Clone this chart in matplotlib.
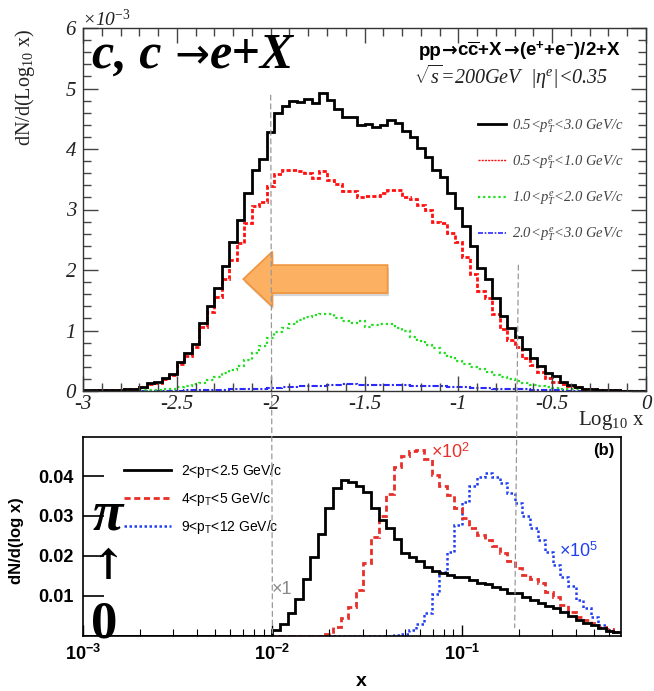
import numpy as np
import matplotlib
matplotlib.use('Agg')
import matplotlib.pyplot as plt
from matplotlib.patches import FancyArrow, ConnectionPatch
from matplotlib.ticker import MultipleLocator, LogLocator, NullFormatter, FixedLocator
from matplotlib.lines import Line2D
from matplotlib.font_manager import FontProperties
from matplotlib.offsetbox import TextArea, HPacker, AnchoredOffsetbox

plt.rcParams['mathtext.fontset'] = 'custom'
plt.rcParams['mathtext.rm'] = 'Liberation Serif'
plt.rcParams['mathtext.it'] = 'Liberation Serif:italic'
plt.rcParams['mathtext.bf'] = 'Liberation Sans:bold'
plt.rcParams['mathtext.sf'] = 'Liberation Sans'
plt.rcParams['axes.unicode_minus'] = False

# ---------------- top panel data (units of 1e-3), bins centred at -3 + 0.04 k
top_bin_width = 0.04
top_first_center = -3.0
e_all = [0.01, 0.01, 0.01, 0.01, 0.02, 0.02, 0.03, 0.03, 0.07, 0.13,
         0.15, 0.22, 0.28, 0.48, 0.62, 0.78, 1.12, 1.40, 1.70, 2.06,
         2.47, 2.83, 3.28, 3.66, 3.83, 4.28, 4.59, 4.71, 4.80, 4.78,
         4.83, 4.76, 4.92, 4.81, 4.66, 4.53, 4.53, 4.40, 4.42, 4.37,
         4.40, 4.48, 4.43, 4.29, 4.20, 4.01, 3.87, 3.65, 3.54, 3.27,
         3.02, 2.72, 2.39, 2.03, 1.85, 1.53, 1.24, 1.04, 0.89, 0.69,
         0.55, 0.41, 0.29, 0.24, 0.15, 0.10, 0.06, 0.04, 0.03, 0.02,
         0.015, 0.01, 0.005, 0.003, 0.002, 0.001]
e_low = [0.005, 0.005, 0.01, 0.01, 0.02, 0.02, 0.03, 0.03, 0.07, 0.12,
         0.14, 0.20, 0.26, 0.45, 0.58, 0.73, 1.06, 1.31, 1.56, 1.85,
         2.17, 2.45, 2.77, 3.05, 3.13, 3.39, 3.59, 3.65, 3.66, 3.64,
         3.60, 3.52, 3.63, 3.49, 3.42, 3.31, 3.31, 3.20, 3.22, 3.23,
         3.28, 3.33, 3.32, 3.21, 3.17, 3.07, 2.99, 2.80, 2.78, 2.61,
         2.47, 2.22, 1.94, 1.66, 1.53, 1.27, 1.02, 0.85, 0.73, 0.54,
         0.43, 0.32, 0.21, 0.15, 0.12, 0.09, 0.06, 0.04, 0.03, 0.02,
         0.01, 0.01, 0.005, 0.003, 0.002, 0.001]
e_mid = [0.002, 0.002, 0.003, 0.003, 0.004, 0.005, 0.006, 0.008, 0.01, 0.015,
         0.02, 0.03, 0.04, 0.07, 0.09, 0.11, 0.14, 0.18, 0.23, 0.29,
         0.35, 0.42, 0.52, 0.62, 0.75, 0.88, 0.97, 1.04, 1.11, 1.17,
         1.22, 1.25, 1.27, 1.28, 1.20, 1.16, 1.13, 1.15, 1.06, 1.09,
         1.11, 1.11, 1.04, 1.00, 0.89, 0.83, 0.76, 0.71, 0.62, 0.57,
         0.50, 0.45, 0.40, 0.36, 0.31, 0.27, 0.23, 0.20, 0.17, 0.13,
         0.10, 0.08, 0.06, 0.05, 0.04, 0.03, 0.025, 0.02, 0.015, 0.01,
         0.008, 0.005, 0.003, 0.002, 0.001, 0.001]
e_high = [0.005, 0.005, 0.005, 0.005, 0.005, 0.005, 0.005, 0.005, 0.005, 0.005,
          0.006, 0.006, 0.007, 0.008, 0.009, 0.01, 0.01, 0.015, 0.02, 0.02,
          0.025, 0.03, 0.03, 0.035, 0.04, 0.045, 0.05, 0.06, 0.07, 0.075,
          0.08, 0.085, 0.09, 0.095, 0.10, 0.11, 0.11, 0.10, 0.105, 0.10,
          0.10, 0.095, 0.10, 0.095, 0.09, 0.085, 0.08, 0.08, 0.075, 0.07,
          0.065, 0.06, 0.055, 0.05, 0.045, 0.04, 0.035, 0.035, 0.03, 0.025,
          0.02, 0.02, 0.015, 0.01, 0.01, 0.008, 0.006, 0.005, 0.004, 0.003,
          0.003, 0.002, 0.002, 0.001, 0.001, 0.001]
top_labels = [r"0.5<$p_{T}^{e}$<3.0 GeV/c", r"0.5<$p_{T}^{e}$<1.0 GeV/c",
              r"1.0<$p_{T}^{e}$<2.0 GeV/c", r"2.0<$p_{T}^{e}$<3.0 GeV/c"]
top_xticks = [-3, -2.5, -2, -1.5, -1, -0.5, 0]
top_xticklabels = ['-3', '-2.5', '-2', '-1.5', '-1', '-0.5', '0']

# ---------------- bottom panel data, log10 x bins of 0.04 from -3
bot_bin_width = 0.04
bot_first_edge = -3.0
pi_low = [0.0] * 25 + [
    0.0014, 0.0028, 0.0056, 0.0091, 0.0141, 0.0198, 0.0256, 0.0319, 0.0369, 0.0390,
    0.0385, 0.0375, 0.0359, 0.0319, 0.0290, 0.0269, 0.0241, 0.0208, 0.0198, 0.0188,
    0.0173, 0.0163, 0.0158, 0.0153, 0.0148, 0.0146, 0.0139, 0.0133, 0.0129, 0.0123,
    0.0116, 0.0106, 0.0108, 0.0098, 0.0089, 0.0081, 0.0075, 0.0068, 0.0060, 0.0049,
    0.0039, 0.0032, 0.0026, 0.0018, 0.0012, 0.0009]
pi_mid = [0.0] * 32 + [
    0.0004, 0.0022, 0.0043, 0.0071, 0.0114, 0.0183, 0.0248, 0.0300, 0.0356, 0.0422,
    0.0450, 0.0462, 0.0465, 0.0442, 0.0402, 0.0375, 0.0352, 0.0319, 0.0294, 0.0271,
    0.0252, 0.0240, 0.0225, 0.0206, 0.0188, 0.0170, 0.0152, 0.0141, 0.0131, 0.0110,
    0.0098, 0.0077, 0.0060, 0.0047, 0.0039, 0.0031, 0.0022, 0.0016, 0.0010]
pi_high = [0.0] * 41 + [
    0.0001, 0.0004, 0.0014, 0.0029, 0.0056, 0.0104, 0.0160, 0.0210, 0.0277, 0.0336,
    0.0375, 0.0398, 0.0407, 0.0397, 0.0383, 0.0358, 0.0333, 0.0300, 0.0269, 0.0240,
    0.0210, 0.0177, 0.0146, 0.0124, 0.0089, 0.0068, 0.0047, 0.0027, 0.0014, 0.0010]
bot_labels = [r"2<p$_{\mathsf{T}}$<2.5 GeV/c", r"4<p$_{\mathsf{T}}$<5 GeV/c",
              r"9<p$_{\mathsf{T}}$<12 GeV/c"]
bot_yticks = [0.01, 0.02, 0.03, 0.04]

W, H = 654, 691
fig = plt.figure(figsize=(W / 100, H / 100), dpi=100)


def fx(x):
    return x / W


def fy(y):
    return 1 - y / H


def packed_text(parts, anchor_xy, loc, ax):
    boxes = [TextArea(s, textprops=p) for s, p in parts]
    pack = HPacker(children=boxes, align='baseline', pad=0, sep=0)
    ab = AnchoredOffsetbox(loc=loc, child=pack, pad=0, borderpad=0, frameon=False,
                           bbox_to_anchor=(fx(anchor_xy[0]), fy(anchor_xy[1])),
                           bbox_transform=fig.transFigure)
    ab.set_clip_on(False)
    ax.add_artist(ab)
    return ab


# ---------------- top axes
ax1 = fig.add_axes([fx(83), fy(391), fx(646) - fx(83), fy(28) - fy(391)])
edges_top = top_first_center - top_bin_width / 2 + top_bin_width * np.arange(len(e_all) + 1)
ax1.stairs(e_high, edges_top, color='#2a2aff', lw=1.5, ls=(0, (3, 1, 1, 1)), baseline=None)
ax1.stairs(e_mid, edges_top, color='#22dd22', lw=1.6, ls=(0, (1, 1.3)), baseline=None)
ax1.stairs(e_low, edges_top, color='#ff1010', lw=2.0, ls=(0, (1.5, 0.8)), baseline=None)
ax1.stairs(e_all, edges_top, color='black', lw=2.0, baseline=None)
ax1.set_xlim(-3, 0)
ax1.set_ylim(0, 6)
ax1.xaxis.set_minor_locator(MultipleLocator(0.1))
ax1.yaxis.set_major_locator(MultipleLocator(1))
ax1.yaxis.set_minor_locator(MultipleLocator(0.2))
ax1.tick_params(which='both', direction='in', top=True, right=True, color='#444444')
ax1.tick_params(which='major', length=11, width=1)
ax1.tick_params(which='minor', length=6, width=1)
ax1.tick_params(axis='x', which='major', pad=3)
ax1.tick_params(axis='y', which='major', pad=5)
ax1.set_xticks(top_xticks)
ax1.set_xticklabels(top_xticklabels)
for lab in ax1.get_xticklabels() + ax1.get_yticklabels():
    lab.set_fontfamily('Liberation Serif')
    lab.set_fontstyle('italic')
    lab.set_fontsize(15)
    lab.set_color('#222222')
for sp in ax1.spines.values():
    sp.set_color('#333333')
    sp.set_linewidth(1.0)

h1 = [Line2D([], [], color='black', lw=2.0),
      Line2D([], [], color='#ff1010', lw=1.0, ls=(0, (1.5, 0.8))),
      Line2D([], [], color='#22dd22', lw=1.6, ls=(0, (1, 1.3))),
      Line2D([], [], color='#2a2aff', lw=1.2, ls=(0, (3, 1, 1, 1)))]
ax1.legend(h1, top_labels, loc='upper left',
           bbox_to_anchor=(fx(478), fy(117)), bbox_transform=fig.transFigure,
           frameon=False, borderpad=0, borderaxespad=0, handlelength=1.9,
           handletextpad=0.45, labelspacing=1.25, labelcolor='#444444',
           prop=FontProperties(family='Liberation Serif', style='italic', size=10.5))

# orange arrow (annotation)
shadow = FancyArrow(-1.37, 1.80, -0.77, 0, width=0.463, head_width=0.91, head_length=0.155,
                    length_includes_head=True, color='#888888', alpha=0.35, lw=0, zorder=5)
ax1.add_patch(shadow)
arrow = FancyArrow(-1.377, 1.85, -0.769, 0, width=0.463, head_width=0.91, head_length=0.155,
                   length_includes_head=True, facecolor='#fbb062', edgecolor='#f0953e',
                   lw=1.2, zorder=6)
ax1.add_patch(arrow)

# top texts
big = dict(family='Liberation Serif', weight='bold', style='italic', fontsize=36)
packed_text([("c, c", big),
             (" →", dict(family='DejaVu Sans', fontsize=30)),
             ("e+X", big)], (92, 56), 'center left', ax1)

hb = dict(family='Liberation Sans', weight='bold', fontsize=13.5)
ha_ = dict(family='DejaVu Sans', weight='bold', fontsize=13.5)
packed_text([("pp", hb), ("→", ha_), (r"c$\overline{\mathbf{c}}$+X", hb), ("→", ha_),
             (r"(e$^{\mathbf{+}}$+e$^{\mathbf{-}}$)/2+X", hb)], (621, 51), 'center right', ax1)

fig.text(fx(608), fy(77), r"$\sqrt{s}$=200GeV  |η$^{e}$|<0.35", family='Liberation Serif',
         style='italic', fontsize=14.5, ha='right', va='center', color='#222222')
fig.text(fx(82), fy(19), r"×10$^{\mathit{-3}}$", family='Liberation Serif', style='italic',
         fontsize=14, ha='left', va='center', color='#222222')
fig.text(fx(25), fy(88), r"dN/d(Log$_{10}$ x)", family='Liberation Serif', fontsize=14.5,
         rotation=90, ha='center', va='center', color='#222222')
fig.text(fx(644), fy(421), r"Log$_{10}$ x", family='Liberation Serif', fontsize=15,
         ha='right', va='center', color='#222222')

# ---------------- bottom axes
ax2 = fig.add_axes([fx(83), fy(635.6), fx(621) - fx(83), fy(437) - fy(635.6)])
edges_bot = 10 ** (bot_first_edge + bot_bin_width * np.arange(len(pi_low) + 1))
ax2.stairs(pi_high, edges_bot, color='#2040f0', lw=1.8, ls=(0, (1, 1)), baseline=None)
ax2.stairs(pi_mid, edges_bot, color='#e8302a', lw=2.0, ls=(0, (2.2, 1.3)), baseline=None)
ax2.stairs(pi_low, edges_bot, color='black', lw=2.0, baseline=None)
ax2.set_xscale('log')
ax2.set_xlim(1e-3, 10 ** (bot_first_edge + bot_bin_width * len(pi_low)))
ax2.set_ylim(0, 0.0498)
ax2.yaxis.set_major_locator(FixedLocator(bot_yticks))
ax2.set_yticklabels([f"{v:.2f}" for v in bot_yticks])
ax2.xaxis.set_major_locator(LogLocator(base=10, numticks=10))
ax2.xaxis.set_minor_locator(LogLocator(base=10, subs=np.arange(2, 10), numticks=20))
ax2.xaxis.set_minor_formatter(NullFormatter())
ax2.tick_params(which='both', direction='in', top=False, right=False, color='black')
ax2.tick_params(axis='y', which='major', length=15, width=1.2, pad=7)
ax2.tick_params(axis='x', which='major', length=8, width=1.0, pad=6)
ax2.tick_params(axis='x', which='minor', length=5, width=0.8)
ax2.tick_params(axis='y', which='minor', length=0)
for lab in ax2.get_xticklabels() + ax2.get_yticklabels():
    lab.set_fontfamily('Liberation Sans')
    lab.set_fontweight('bold')
    lab.set_fontsize(13)
for sp in ax2.spines.values():
    sp.set_color('black')
    sp.set_linewidth(1.2)

h2 = [Line2D([], [], color='black', lw=2.0),
      Line2D([], [], color='#e8302a', lw=2.0, ls=(0, (2.2, 1.3))),
      Line2D([], [], color='#2040f0', lw=1.8, ls=(0, (1, 1)))]
ax2.legend(h2, bot_labels, loc='upper left',
           bbox_to_anchor=(fx(124), fy(462)), bbox_transform=fig.transFigure,
           frameon=False, borderpad=0, borderaxespad=0, handlelength=3.4,
           handletextpad=0.7, labelspacing=0.72,
           prop=FontProperties(family='Liberation Sans', size=10))

fig.text(fx(272), fy(590), "×1", family='Liberation Sans', fontsize=13, color='#888888',
         ha='left', va='center')
fig.text(fx(431), fy(452), r"×10$^{\mathsf{2}}$", family='Liberation Sans', fontsize=13,
         color='#e8302a', ha='left', va='center')
fig.text(fx(559), fy(551), r"×10$^{\mathsf{5}}$", family='Liberation Sans', fontsize=13,
         color='#2040f0', ha='left', va='center')
fig.text(fx(614), fy(450), "(b)", family='Liberation Sans', weight='bold', fontsize=12,
         ha='right', va='center')
fig.text(fx(17), fy(541), "dN/d(log x)", family='Liberation Sans', weight='bold',
         fontsize=12, rotation=90, ha='center', va='center')
fig.text(fx(361), fy(681), "x", family='Liberation Sans', weight='bold', fontsize=14,
         ha='center', va='center')

fig.text(fx(108), fy(515), "π", family='Liberation Serif', weight='bold', style='italic',
         fontsize=40, ha='center', va='center')
fig.text(fx(107), fy(567), "↑", family='DejaVu Serif', weight='bold', style='italic',
         fontsize=30, ha='center', va='center')
fig.text(fx(104), fy(624), "0", family='Liberation Serif', weight='bold',
         fontsize=38, ha='center', va='center')

# dashed guide lines spanning both panels
for xa, ya, xb, yb in [(-2.0, 4.89, 1e-2, 0.0006), (-0.68, 2.08, 0.19, 0.002)]:
    cp = ConnectionPatch(xyA=(xa, ya), coordsA=ax1.transData, xyB=(xb, yb),
                         coordsB=ax2.transData, ls=(0, (4, 3)), color='#999999', lw=0.9)
    fig.add_artist(cp)

fig.savefig('out.png', dpi=100)
